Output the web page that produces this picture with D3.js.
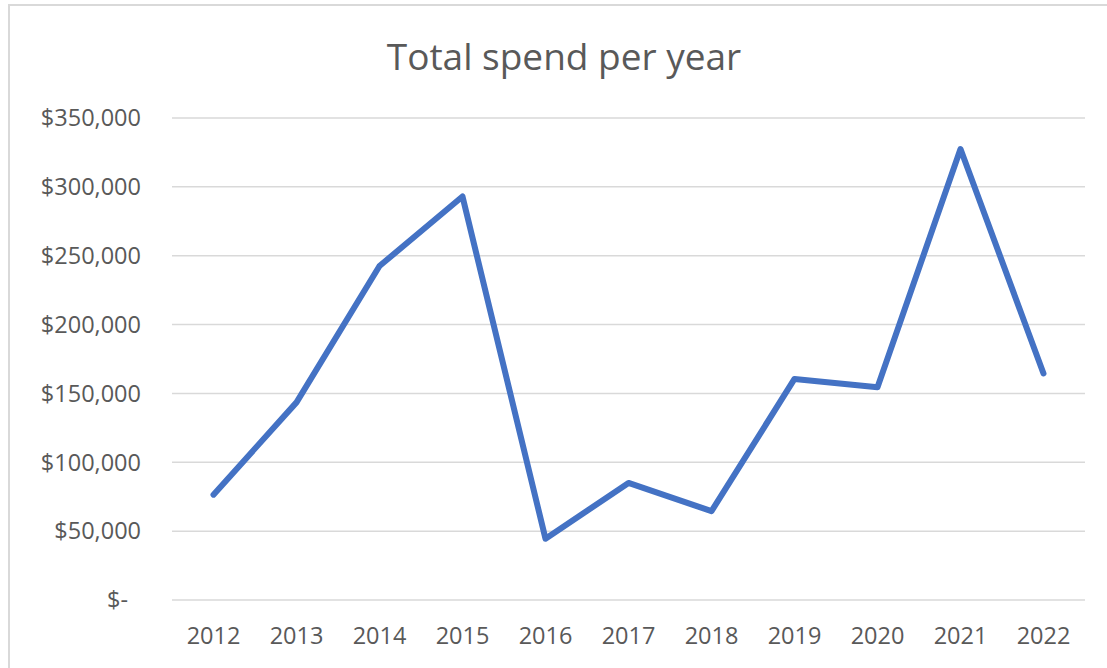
<!DOCTYPE html>
<html lang="en">
<head>
    <meta charset="UTF-8">
    <title>Total spend per year</title>
    <script src="https://d3js.org/d3.v7.min.js"></script>
    <style>
        body {
            margin: 0;
            background: #fff;
            font-family: "Open Sans", "Noto Sans", sans-serif;
        }
        .grid line {
            stroke: #d9d9d9;
            stroke-width: 1.5;
        }
        .tick-label {
            fill: #595959;
            font-size: 23.5px;
        }
    </style>
</head>
<body>
    <div id="chart"></div>
    <script>
        // values
        const years = ["2012", "2013", "2014", "2015", "2016", "2017", "2018", "2019", "2020", "2021", "2022"];
        const spend = [76500, 143500, 242500, 293000, 44500, 85000, 64500, 160500, 154500, 327500, 164500];
        const yTicks = [0, 50000, 100000, 150000, 200000, 250000, 300000, 350000];

        const width = 1107, height = 668;
        const plot = { left: 172, right: 1085, top: 118, bottom: 600 };

        const svg = d3.select("#chart")
            .append("svg")
            .attr("width", width)
            .attr("height", height);

        // chart area border
        svg.append("rect")
            .attr("x", 9)
            .attr("y", 5)
            .attr("width", width + 20)
            .attr("height", height + 20)
            .attr("fill", "#fff")
            .attr("stroke", "#d9d9d9")
            .attr("stroke-width", 2);

        svg.append("text")
            .attr("x", 564)
            .attr("y", 70)
            .attr("text-anchor", "middle")
            .attr("fill", "#595959")
            .style("font-size", "37px")
            .text("Total spend per year");

        const x = d3.scaleBand()
            .domain(years)
            .range([plot.left, plot.right]);

        const y = d3.scaleLinear()
            .domain([0, 350000])
            .range([plot.bottom, plot.top]);

        const fmt = d => d === 0 ? "$-" : "$" + d3.format(",")(d);

        // gridlines
        svg.append("g")
            .attr("class", "grid")
            .selectAll("line")
            .data(yTicks)
            .enter()
            .append("line")
            .attr("x1", plot.left)
            .attr("x2", plot.right)
            .attr("y1", d => y(d))
            .attr("y2", d => y(d));

        // y labels
        svg.append("g")
            .selectAll("text")
            .data(yTicks)
            .enter()
            .append("text")
            .attr("class", "tick-label")
            .attr("x", d => d === 0 ? 128 : 141)
            .attr("y", d => y(d))
            .attr("dy", "0.35em")
            .attr("text-anchor", "end")
            .text(fmt);

        // x labels
        svg.append("g")
            .selectAll("text")
            .data(years)
            .enter()
            .append("text")
            .attr("class", "tick-label")
            .attr("x", d => x(d) + x.bandwidth() / 2)
            .attr("y", 644)
            .attr("text-anchor", "middle")
            .text(d => d);

        const line = d3.line()
            .x((d, i) => x(years[i]) + x.bandwidth() / 2)
            .y(d => y(d));

        svg.append("path")
            .datum(spend)
            .attr("d", line)
            .attr("fill", "none")
            .attr("stroke", "#4472c4")
            .attr("stroke-width", 6)
            .attr("stroke-linejoin", "round")
            .attr("stroke-linecap", "round");
    </script>
</body>
</html>
